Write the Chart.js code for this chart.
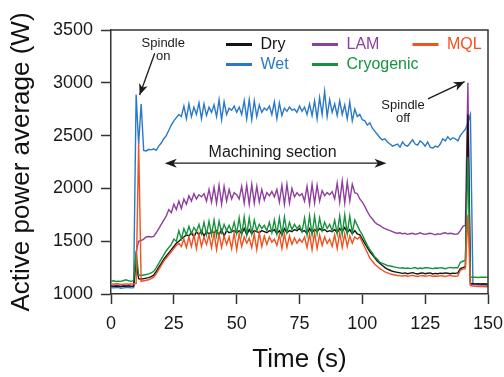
<!DOCTYPE html>
<html>
<head>
<meta charset="utf-8">
<script src="https://cdn.jsdelivr.net/npm/chart.js@4/dist/chart.umd.min.js"></script>
<style>
  html, body { margin: 0; padding: 0; background: #fff; }
  #wrap { width: 504px; height: 377px; }
</style>
</head>
<body>
<div id="wrap"><canvas id="powerChart" width="504" height="377"></canvas></div>
<script>
// Time axis (s)
const timeS = [
  0, 1, 2, 3, 4, 5, 6, 7, 8, 9,
  10, 11, 12, 13, 14, 15, 16, 17, 18, 19,
  20, 21, 22, 23, 24, 25, 26, 27, 28, 29,
  30, 31, 32, 33, 34, 35, 36, 37, 38, 39,
  40, 41, 42, 43, 44, 45, 46, 47, 48, 49,
  50, 51, 52, 53, 54, 55, 56, 57, 58, 59,
  60, 61, 62, 63, 64, 65, 66, 67, 68, 69,
  70, 71, 72, 73, 74, 75, 76, 77, 78, 79,
  80, 81, 82, 83, 84, 85, 86, 87, 88, 89,
  90, 91, 92, 93, 94, 95, 96, 97, 98, 99,
  100, 101, 102, 103, 104, 105, 106, 107, 108, 109,
  110, 111, 112, 113, 114, 115, 116, 117, 118, 119,
  120, 121, 122, 123, 124, 125, 126, 127, 128, 129,
  130, 131, 132, 133, 134, 135, 136, 137, 138, 139,
  140, 141, 142, 143, 144, 145, 146, 147, 148, 149,
  150
];

// Active power (W) per cooling strategy
const dryW = [
  1075, 1072, 1076, 1074, 1070, 1075, 1073, 1077, 1072, 1075,
  1300, 1145, 1140, 1145, 1150, 1155, 1165, 1180, 1215, 1255,
  1290, 1330, 1360, 1390, 1420, 1450, 1480, 1500, 1520, 1540,
  1560, 1550, 1580, 1540, 1590, 1560, 1600, 1550, 1590, 1570,
  1590, 1580, 1600, 1560, 1610, 1550, 1600, 1580, 1590, 1600,
  1580, 1600, 1570, 1620, 1560, 1610, 1570, 1600, 1590, 1580,
  1600, 1590, 1580, 1600, 1590, 1610, 1570, 1600, 1560, 1620,
  1580, 1600, 1590, 1610, 1600, 1620, 1590, 1600, 1570, 1620,
  1580, 1610, 1590, 1620, 1600, 1610, 1590, 1600, 1590, 1610,
  1580, 1620, 1590, 1630, 1580, 1610, 1570, 1600, 1570, 1560,
  1520, 1480, 1440, 1400, 1370, 1340, 1310, 1290, 1270, 1250,
  1235, 1225, 1215, 1210, 1205, 1200, 1195, 1200, 1192, 1198,
  1202, 1195, 1190, 1196, 1200, 1192, 1196, 1200, 1190, 1195,
  1192, 1198, 1194, 1200, 1196, 1192, 1198, 1195, 1200, 1240,
  1250, 1260, 2700, 1100, 1098, 1096, 1098, 1095, 1097, 1095,
  1096
];
const wetW = [
  1060, 1058, 1062, 1060, 1055, 1058, 1060, 1062, 1058, 1060,
  2890, 2420, 2800, 2360, 2355, 2370, 2365, 2375, 2360, 2400,
  2430, 2470, 2500, 2550, 2600, 2640, 2670, 2700, 2680, 2780,
  2660, 2800, 2680, 2770, 2700, 2810, 2660, 2800, 2690, 2770,
  2720, 2790, 2680, 2840, 2650, 2820, 2700, 2760, 2740, 2780,
  2720, 2770, 2700, 2830, 2660, 2840, 2650, 2830, 2680, 2790,
  2720, 2760, 2740, 2780, 2700, 2820, 2660, 2810, 2690, 2760,
  2730, 2770, 2740, 2750, 2720, 2780, 2730, 2770, 2700, 2800,
  2690, 2830, 2660, 2860, 2700, 2920, 2680, 2840, 2720, 2800,
  2690, 2830, 2700, 2790, 2660, 2820, 2640, 2750, 2680, 2700,
  2650, 2640, 2600, 2620, 2570, 2540, 2510, 2480, 2460, 2470,
  2440, 2420, 2400, 2410, 2420, 2390, 2440, 2410, 2400, 2430,
  2460, 2420, 2410, 2450, 2430, 2400, 2440, 2390, 2380, 2400,
  2390, 2420, 2470, 2450, 2490, 2460, 2480, 2470, 2450, 2500,
  2530, 2560, 2620, 2700, 1095, 1092, 1090, 1090, 1088, 1090,
  1088
];
const lamW = [
  1078, 1075, 1079, 1077, 1073, 1078, 1076, 1079, 1075, 1077,
  1400, 1500, 1505, 1520, 1540, 1545, 1540, 1545, 1580, 1620,
  1660, 1700, 1740, 1800, 1770, 1850, 1800, 1880, 1810, 1900,
  1850, 1930, 1880, 1950, 1900, 1940, 1920, 1950, 1880, 1990,
  1870, 2010, 1860, 2030, 1850, 2020, 1880, 1990, 1900, 1960,
  1940, 1900, 2020, 1860, 2030, 1850, 2040, 1860, 2020, 1870,
  1990, 1890, 1960, 1930, 1970, 1920, 1990, 1870, 2030, 1850,
  2040, 1860, 2000, 1920, 1960, 1930, 1950, 1880, 2020, 1850,
  2040, 1860, 2030, 1880, 1980, 1930, 1960, 1940, 1970, 1900,
  2050, 1870, 2070, 1860, 2060, 1880, 2040, 1960, 1950, 1900,
  1870, 1830, 1780, 1740, 1710, 1680, 1660, 1650, 1630, 1620,
  1610, 1600, 1590, 1580, 1575, 1580, 1570, 1575, 1565, 1570,
  1575, 1565, 1570, 1580, 1570, 1565, 1570, 1575, 1570, 1560,
  1570, 1565, 1575, 1580, 1570, 1575, 1570, 1565, 1570, 1600,
  1640, 1650, 3000, 1090, 1088, 1090, 1088, 1090, 1088, 1090,
  1088
];
const cryoW = [
  1120, 1125, 1118, 1122, 1120, 1128, 1135, 1125, 1120, 1130,
  1400, 1180, 1175, 1180, 1185, 1190, 1200, 1215, 1250, 1290,
  1330, 1370, 1410, 1440, 1470, 1520, 1500, 1600, 1520, 1620,
  1560, 1640, 1570, 1630, 1590, 1660, 1570, 1680, 1560, 1690,
  1560, 1700, 1550, 1690, 1580, 1660, 1600, 1650, 1590, 1680,
  1570, 1720, 1560, 1730, 1560, 1720, 1570, 1700, 1600, 1660,
  1620, 1650, 1600, 1680, 1580, 1700, 1570, 1720, 1560, 1730,
  1580, 1680, 1610, 1660, 1620, 1650, 1590, 1720, 1560, 1740,
  1560, 1740, 1570, 1720, 1600, 1680, 1620, 1660, 1600, 1700,
  1570, 1740, 1560, 1750, 1570, 1740, 1580, 1700, 1650, 1600,
  1560, 1510, 1460, 1420, 1390, 1350, 1330, 1300, 1290, 1280,
  1270, 1265, 1260, 1255, 1250, 1245, 1248, 1242, 1246, 1240,
  1245, 1250, 1240, 1246, 1242, 1248, 1250, 1244, 1240, 1246,
  1244, 1250, 1246, 1240, 1248, 1252, 1246, 1250, 1248, 1300,
  1310, 1320, 2300, 1160, 1158, 1160, 1156, 1158, 1160, 1158,
  1160
];
const mqlW = [
  1095, 1092, 1097, 1095, 1090, 1094, 1096, 1093, 1095, 1097,
  1100, 2430, 1120, 1125, 1130, 1135, 1145, 1160, 1190, 1230,
  1270, 1310, 1340, 1370, 1400, 1430, 1460, 1480, 1450, 1520,
  1440, 1540, 1450, 1560, 1430, 1570, 1450, 1540, 1470, 1560,
  1440, 1580, 1420, 1570, 1440, 1550, 1470, 1540, 1430, 1580,
  1420, 1570, 1450, 1540, 1480, 1530, 1440, 1570, 1420, 1580,
  1450, 1550, 1470, 1540, 1490, 1520, 1460, 1560, 1430, 1570,
  1440, 1550, 1470, 1530, 1480, 1520, 1490, 1540, 1440, 1570,
  1420, 1580, 1430, 1560, 1460, 1540, 1480, 1520, 1450, 1560,
  1430, 1580, 1440, 1570, 1450, 1550, 1480, 1540, 1520, 1540,
  1490, 1440, 1390, 1340, 1310, 1280, 1260, 1240, 1225, 1210,
  1200, 1190, 1185, 1180, 1175, 1172, 1170, 1175, 1168, 1172,
  1176, 1170, 1166, 1172, 1175, 1168, 1172, 1176, 1166, 1170,
  1168, 1174, 1170, 1166, 1172, 1176, 1170, 1168, 1172, 1225,
  1235, 1240, 1750, 1080, 1075, 1072, 1070, 1072, 1070, 1068,
  1070
];

const seriesNames = ["Dry", "Wet", "LAM", "Cryogenic", "MQL"];
const seriesValues = [dryW, wetW, lamW, cryoW, mqlW];
const seriesColors = ["#141414", "#2a79c9", "#8e3f9e", "#16923f", "#f1511f"];
const labelColors = ["#141414", "#2a79c9", "#8e3f9e", "#16923f", "#f1511f"];
const drawOrder = [2, 4, 3, 1, 0];

// annotations in data units: [time, power]
const spindleOnText = { t: 20.8, lines: [["Spindle", 3336], ["on", 3220]] };
const spindleOnArrow = [[17.4, 3280], [11.4, 2885]];
const spindleOffText = { t: 116.2, lines: [["Spindle", 2750], ["off", 2633]] };
const spindleOffArrow = [[126.1, 2847], [140.7, 3011]];
const machiningText = { t: 64.3, p: 2302, text: "Machining section" };
const machiningArrow = [[21.4, 2239], [109.6, 2239]];

const FONT = "'Liberation Sans', Arial, Helvetica, sans-serif";
const AXIS = "#333333";

function arrowHead(ctx, x0, y0, x1, y1, len, half) {
  const ang = Math.atan2(y1 - y0, x1 - x0);
  ctx.save();
  ctx.translate(x1, y1);
  ctx.rotate(ang);
  ctx.beginPath();
  ctx.moveTo(0, 0);
  ctx.lineTo(-len, -half);
  ctx.lineTo(-len * 0.72, 0);
  ctx.lineTo(-len, half);
  ctx.closePath();
  ctx.fill();
  ctx.restore();
}

const framePlugin = {
  id: "framePlugin",
  afterDatasetsDraw(chart) {
    const { ctx, chartArea: a, scales: { x, y } } = chart;
    ctx.save();
    // top + right border of the box
    ctx.strokeStyle = AXIS;
    ctx.lineWidth = 1.5;
    ctx.beginPath();
    ctx.moveTo(a.left, a.top);
    ctx.lineTo(a.right, a.top);
    ctx.lineTo(a.right, a.bottom);
    ctx.stroke();

    ctx.fillStyle = "#1a1a1a";
    ctx.strokeStyle = "#1a1a1a";
    ctx.textAlign = "center";
    ctx.textBaseline = "alphabetic";

    // Spindle on / off labels
    ctx.font = "13px " + FONT;
    [spindleOnText, spindleOffText].forEach((note) => {
      note.lines.forEach(([txt, p]) => {
        ctx.fillText(txt, x.getPixelForValue(note.t), y.getPixelForValue(p));
      });
    });

    // single arrows
    ctx.lineWidth = 1.3;
    [spindleOnArrow, spindleOffArrow].forEach(([from, to]) => {
      const x0 = x.getPixelForValue(from[0]), y0 = y.getPixelForValue(from[1]);
      const x1 = x.getPixelForValue(to[0]), y1 = y.getPixelForValue(to[1]);
      ctx.beginPath();
      ctx.moveTo(x0, y0);
      ctx.lineTo(x1, y1);
      ctx.stroke();
      arrowHead(ctx, x0, y0, x1, y1, 11, 4.5);
    });

    // machining section
    ctx.font = "16px " + FONT;
    ctx.fillText(machiningText.text, x.getPixelForValue(machiningText.t), y.getPixelForValue(machiningText.p));
    const mx0 = x.getPixelForValue(machiningArrow[0][0]);
    const mx1 = x.getPixelForValue(machiningArrow[1][0]);
    const my = y.getPixelForValue(machiningArrow[0][1]);
    ctx.beginPath();
    ctx.moveTo(mx0 + 4, my);
    ctx.lineTo(mx1 - 4, my);
    ctx.stroke();
    arrowHead(ctx, mx1, my, mx0, my, 12, 4.5);
    arrowHead(ctx, mx0, my, mx1, my, 12, 4.5);

    // legend, 3 columns x 2 rows
    const slots = [[226, 44.5], [226, 64.5], [312, 44.5], [312, 64.5], [412.5, 44.5]];
    ctx.font = "16px " + FONT;
    ctx.textAlign = "left";
    ctx.textBaseline = "middle";
    chart.data.datasets.forEach((ds, i) => {
      const [lx, ly] = slots[i];
      ctx.strokeStyle = ds.borderColor;
      ctx.lineWidth = 3;
      ctx.beginPath();
      ctx.moveTo(lx, ly);
      ctx.lineTo(lx + 26, ly);
      ctx.stroke();
      ctx.fillStyle = labelColors[i];
      ctx.fillText(ds.label, lx + 34.5, ly + 0.5);
    });
    ctx.restore();
  }
};

const datasets = seriesNames.map((name, i) => ({
  label: name,
  data: timeS.map((t, k) => ({ x: t, y: seriesValues[i][k] })),
  borderColor: seriesColors[i],
  backgroundColor: seriesColors[i],
  borderWidth: 1.4,
  pointRadius: 0,
  tension: 0,
  fill: false,
  order: drawOrder[i],
}));

new Chart(document.getElementById("powerChart"), {
  type: "line",
  data: { datasets },
  options: {
    responsive: false,
    animation: false,
    layout: { padding: { top: 30, right: 16, left: 0, bottom: 0 } },
    plugins: {
      legend: { display: false },
      tooltip: { enabled: false },
    },
    scales: {
      x: {
        type: "linear",
        min: 0,
        max: 150,
        afterFit: (scale) => {
          scale.height = 83;
          scale.paddingLeft = 0;
          scale.paddingRight = 0;
        },
        ticks: {
          stepSize: 25,
          color: "#1a1a1a",
          padding: 9,
          maxRotation: 0,
          font: { family: FONT, size: 18 },
          callback: (v) => String(v),
        },
        grid: {
          drawOnChartArea: false,
          drawTicks: true,
          tickLength: 10,
          tickWidth: 1.5,
          tickColor: AXIS,
        },
        border: { display: true, color: AXIS, width: 1.5 },
        title: {
          display: true,
          text: "Time (s)",
          color: "#111",
          font: { family: FONT, size: 26 },
          padding: { top: 0, bottom: 2 },
        },
      },
      y: {
        min: 1000,
        max: 3500,
        afterFit: (scale) => {
          scale.width = 111;
          scale.paddingTop = 0;
          scale.paddingBottom = 0;
        },
        ticks: {
          stepSize: 500,
          color: "#1a1a1a",
          padding: 8,
          font: { family: FONT, size: 18 },
          callback: (v) => String(v),
        },
        grid: {
          drawOnChartArea: false,
          drawTicks: true,
          tickLength: 10,
          tickWidth: 1.5,
          tickColor: AXIS,
        },
        border: { display: true, color: AXIS, width: 1.5 },
        title: {
          display: true,
          text: "Active power average (W)",
          color: "#111",
          font: { family: FONT, size: 26 },
          padding: { top: 6, bottom: 0 },
        },
      },
    },
  },
  plugins: [framePlugin],
});
</script>
</body>
</html>
